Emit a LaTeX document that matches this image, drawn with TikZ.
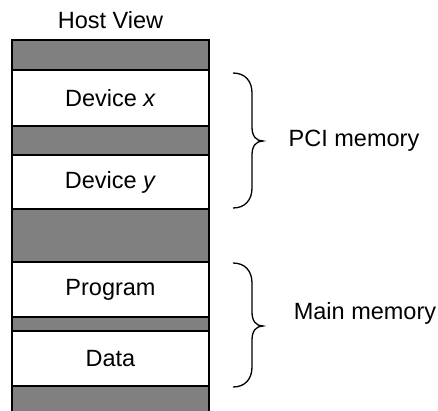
\documentclass[tikz,border=0pt]{standalone}
\usepackage{fontspec}
\setmainfont{Liberation Sans}
\usetikzlibrary{positioning}

\begin{document}
\begin{tikzpicture}[x=1pt,y=-1pt,node distance=0pt,
  blk/.style={draw,line width=2.5pt,fill=white,minimum width=197pt,inner sep=0pt,outer sep=0pt,font=\fontsize{23.5}{28}\selectfont},
  hole/.style={blk,fill=gray},
  brc/.style={line width=1.3pt},
  lbl/.style={font=\fontsize{23.5}{28}\selectfont}]
\useasboundingbox (0,0) rectangle (438,410);
\node[lbl] (host) at (110.5,20) {Host View};
% memory column, top to bottom
\node[hole,minimum height=30pt,anchor=north] (g0) at (110.5,40) {};
\node[blk,minimum height=56pt,below=of g0] (devx) {Device \textit{x}};
\node[hole,minimum height=29pt,below=of devx] (g1) {};
\node[blk,minimum height=54pt,below=of g1] (devy) {Device \textit{y}};
\node[hole,minimum height=53pt,below=of devy] (g2) {};
\node[blk,minimum height=55pt,below=of g2] (prog) {Program};
\node[hole,minimum height=14pt,below=of prog] (g3) {};
\node[blk,minimum height=55pt,below=of g3] (data) {Data};
\node[hole,minimum height=26pt,below=of data] (g4) {};
% braces
\coordinate (pcitop) at (233,73);
\coordinate (pcitip) at (263,141);
\coordinate (pcibot) at (233,208);
\coordinate (maintop) at (233,263);
\coordinate (maintip) at (263,326);
\coordinate (mainbot) at (233,387);
\draw[brc] (pcitop) .. controls (245,73) and (252,81) .. (252,93) -- (252,127)
  .. controls (252,136) and (256,141) .. (pcitip)
  .. controls (256,141) and (252,146) .. (252,155) -- (252,188)
  .. controls (252,200) and (245,208) .. (pcibot);
\draw[brc] (maintop) .. controls (245,263) and (252,271) .. (252,283) -- (252,312)
  .. controls (252,321) and (256,326) .. (maintip)
  .. controls (256,326) and (252,331) .. (252,340) -- (252,367)
  .. controls (252,379) and (245,387) .. (mainbot);
\node[lbl] (pci) at (354,141) {PCI memory};
\node[lbl] (mainmem) at (365,313) {Main memory};
\end{tikzpicture}
\end{document}
